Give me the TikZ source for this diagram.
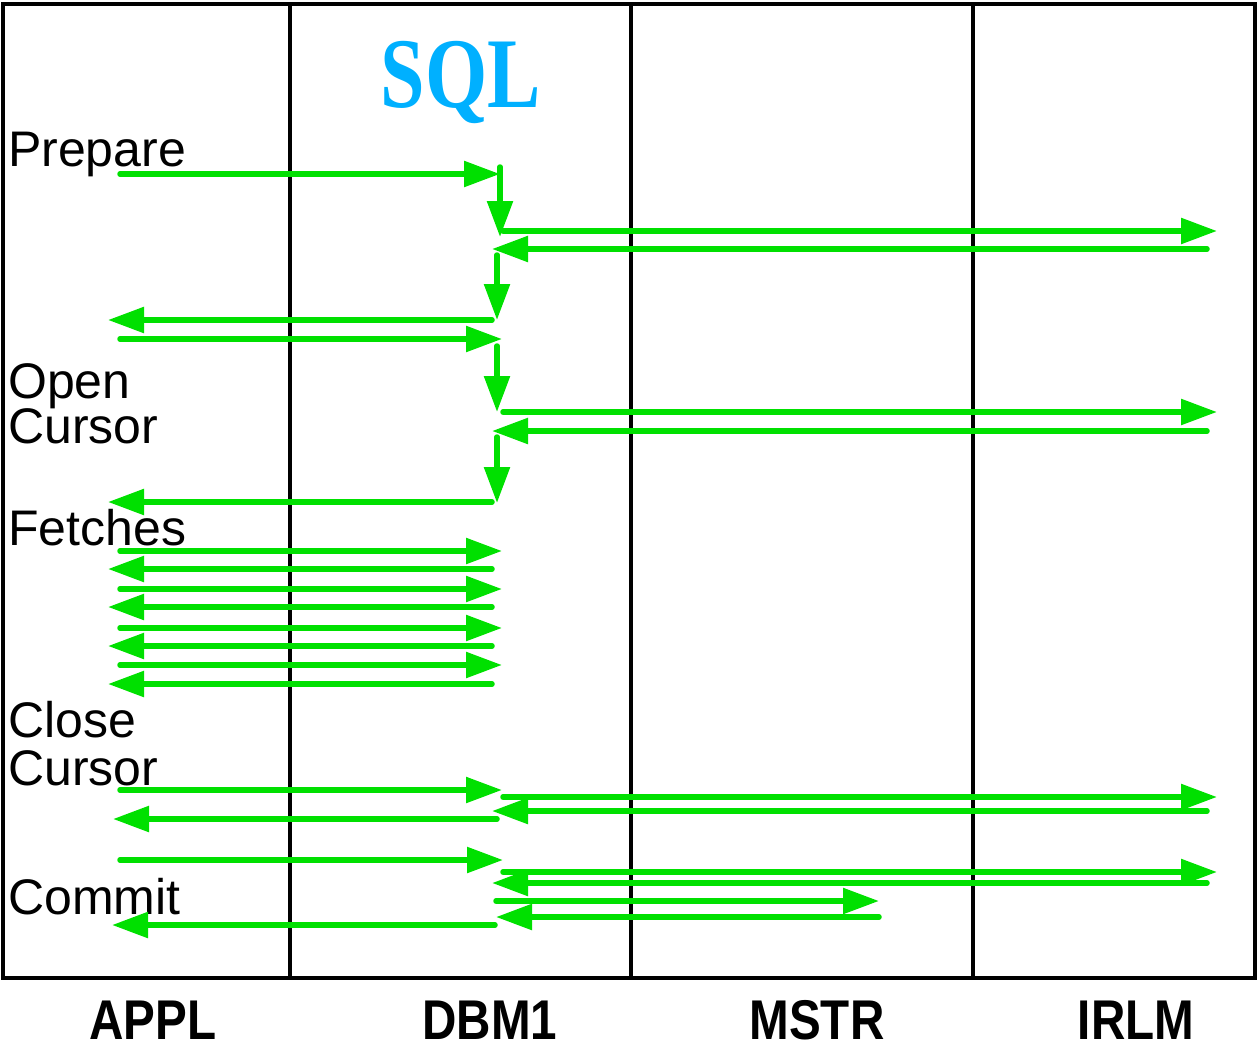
\documentclass[tikz,border=0pt]{standalone}
\usepackage{fontspec}
\setmainfont{Liberation Sans}
\newfontfamily\sqlfont{Liberation Serif}
\usetikzlibrary{arrows.meta}
\definecolor{grn}{RGB}{0,224,0}
\definecolor{sqlblue}{RGB}{0,176,255}
\begin{document}
\begin{tikzpicture}[x=1pt,y=-1pt,
  msg/.style={draw=grn, line width=5.5pt, line cap=round, -{Triangle[length=36pt,width=25pt]}},
  frame/.style={draw=black, line width=3.5pt},
  lane/.style={font=\fontsize{56}{56}\selectfont\bfseries, xscale=0.85, inner sep=0pt, anchor=base, text depth=0pt},
  side/.style={font=\fontsize{50}{45}\selectfont, inner sep=0pt, anchor=base west, text depth=0pt}]
\useasboundingbox (0,0) rectangle (1257,1046);
% frame
\draw[frame] (3,4) rectangle (1255,978);
\draw[frame] (290,4) -- (290,978);
\draw[frame] (631,4) -- (631,978);
\draw[frame] (973,4) -- (973,978);
% lane labels
\node[lane] (appl) at (153,1039) {APPL};
\node[lane] (dbm1) at (490,1039) {DBM1};
\node[lane] (mstr) at (817,1039) {MSTR};
\node[lane] (irlm) at (1136,1039) {IRLM};
% title
\node[font=\sqlfont\fontsize{100}{100}\selectfont\bfseries, text=sqlblue, xscale=0.8, inner sep=0pt, anchor=base] (sql) at (461,108) {SQL};
% side labels
\node[side] (prep) at (8,166) {Prepare};
\node[side] (open) at (8,398) {Open};
\node[side] (ocur) at (8,443) {Cursor};
\node[side] (fetch) at (8,545) {Fetches};
\node[side] (close) at (8,737) {Close};
\node[side] (ccur) at (8,785) {Cursor};
\node[side] (commit) at (8,914) {Commit};
% horizontal messages
\foreach \y/\a/\b [count=\i] in {
  174/120/500, 231/503/1217, 249/1207/492, 320/492/108, 339/120/502,
  412/503/1217, 431/1207/492, 502/492/108,
  551/120/502, 569/492/108, 589/120/502, 607/492/108,
  628/120/502, 646/492/108, 665/120/502, 684/492/108,
  790/120/502, 797/503/1217, 811/1207/492, 819/497/113,
  860/120/503, 872/503/1217, 883/1207/492, 901/496/879, 917/879/496, 925/495/112}{
  \coordinate (ms\i) at (\a,\y);
  \coordinate (me\i) at (\b,\y);
  \draw[msg] (ms\i) -- (me\i);
}
% vertical internal steps in DBM1
\foreach \x/\ya/\yb [count=\i] in {500/167/237, 497/255/320, 497/346/412, 497/437/503}{
  \coordinate (vs\i) at (\x,\ya);
  \coordinate (ve\i) at (\x,\yb);
  \draw[msg] (vs\i) -- (ve\i);
}
\end{tikzpicture}
\end{document}
